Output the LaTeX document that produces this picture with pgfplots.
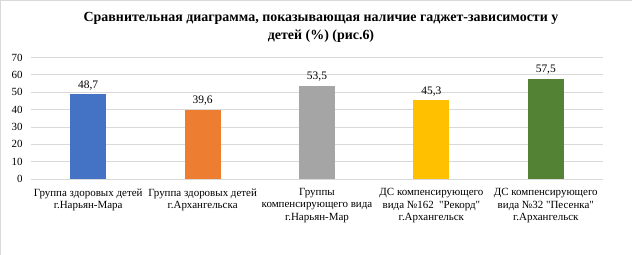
\documentclass[border=0pt]{standalone}
\usepackage{fontspec}
\setmainfont{Liberation Serif}
\usepackage{pgfplots}
\pgfplotsset{compat=1.18}
\definecolor{c1}{HTML}{4472C4}
\definecolor{c2}{HTML}{ED7D31}
\definecolor{c3}{HTML}{A5A5A5}
\definecolor{c4}{HTML}{FFC000}
\definecolor{c5}{HTML}{548235}
\definecolor{gridc}{HTML}{D9D9D9}
\begin{document}
\begin{tikzpicture}[x=1bp,y=1bp]
\begin{axis}[
  at={(0,0)}, anchor=south west,
  scale only axis, width=572bp, height=121.5bp,
  ymin=0, ymax=70, ytick={0,10,...,70},
  xmin=-0.5, xmax=4.5,
  xtick={0,1,2,3,4},
  xticklabels={{Группа здоровых детей\\г.Нарьян-Мара},{Группа здоровых детей\\г.Архангельска},{Группы\\компенсирующего вида\\г.Нарьян-Мар},{ДС компенсирующего\\вида №162 \ \textquotedbl Рекорд\textquotedbl\\г.Архангельск},{ДС компенсирующего\\вида №32 \textquotedbl Песенка\textquotedbl\\г.Архангельск}},
  xticklabel style={align=center, font=\fontsize{11}{12.3}\selectfont, yshift=-6bp},
  yticklabel style={font=\fontsize{11}{12}\selectfont, xshift=-5bp},
  /pgf/number format/assume math mode=true,
  axis line style={draw=none},
  major tick length=0pt,
  ymajorgrids, grid style={gridc, line width=0.75bp},
  ybar, bar width=36bp, bar shift=0pt,
  nodes near coords,
  every node near coord/.append style={font=\fontsize{11.5}{12}\selectfont, /pgf/number format/use comma, /pgf/number format/fixed, /pgf/number format/precision=1, /pgf/number format/fixed zerofill, yshift=1bp},
  clip=false,
  title={Сравнительная диаграмма, показывающая наличие гаджет-зависимости у\\ детей (\%) (рис.6)},
  title style={align=center, font=\bfseries\fontsize{14}{18}\selectfont, yshift=6bp, xshift=4bp},
]
\addplot[fill=c1, draw=none] coordinates {(0,48.7)};
\addplot[fill=c2, draw=none] coordinates {(1,39.6)};
\addplot[fill=c3, draw=none] coordinates {(2,53.5)};
\addplot[fill=c4, draw=none] coordinates {(3,45.3)};
\addplot[fill=c5, draw=none] coordinates {(4,57.5)};
\end{axis}
\draw[gridc, line width=0.75bp] (-31bp,-76bp) rectangle (601bp,179bp);
\pgfresetboundingbox
\path[use as bounding box] (-31bp,-76bp) rectangle (601bp,179bp);
\end{tikzpicture}
\end{document}
